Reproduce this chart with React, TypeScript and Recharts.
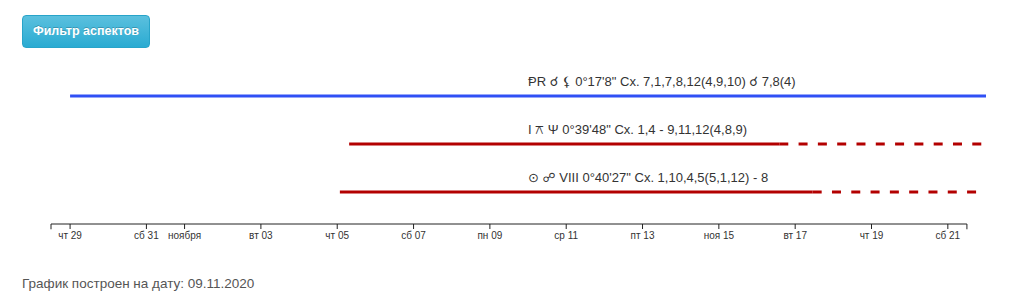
import { LineChart, Line, XAxis, YAxis, ReferenceLine, ReferenceDot } from 'recharts';

// all dates are read as UTC
const ms = (s: string) => Date.parse(s + ':00Z');

const DOMAIN_START = '2020-10-28T12:00';
const DOMAIN_END = '2020-11-22T00:00';
const AXIS_END = '2020-11-21T12:00';

const TICK_DATES = [
  '2020-10-29T00:00', '2020-10-31T00:00', '2020-11-01T00:00', '2020-11-03T00:00',
  '2020-11-05T00:00', '2020-11-07T00:00', '2020-11-09T00:00', '2020-11-11T00:00',
  '2020-11-13T00:00', '2020-11-15T00:00', '2020-11-17T00:00', '2020-11-19T00:00',
  '2020-11-21T00:00',
];
const TICK_LABELS = [
  'чт 29', 'сб 31', 'ноября', 'вт 03', 'чт 05', 'сб 07', 'пн 09', 'ср 11',
  'пт 13', 'ноя 15', 'вт 17', 'чт 19', 'сб 21',
];

const ASPECT_LABELS = [
  'ⱣR ☌ ⚸ 0°17\'8" Сх. 7,1,7,8,12(4,9,10) ☌ 7,8(4)',
  'I ⚻ Ψ 0°39\'48" Сх. 1,4 - 9,11,12(4,8,9)',
  '⊙ ☍ VIII 0°40\'27" Сх. 1,10,4,5(5,1,12) - 8',
];
const ASPECT_START = ['2020-10-29T00:00', '2020-11-05T07:30', '2020-11-05T01:40'];
const ASPECT_SOLID_END = ['2020-11-22T00:00', '2020-11-16T14:00', '2020-11-17T11:00'];
const ASPECT_END = ['2020-11-22T00:00', '2020-11-21T21:20', '2020-11-21T18:15'];
const ASPECT_COLORS = ['#3050f5', '#b30000', '#b30000'];
const ASPECT_LANE = [3, 2, 1];
const LABEL_DATE = '2020-11-10T00:00';

const Y_MIN = 1 / 3;
const Y_MAX = 3;
const TICK_MS = TICK_DATES.map(ms);

const FONT = 'Arial, "Liberation Sans", "DejaVu Sans", sans-serif';

const AspectLabel = ({ viewBox, text }: any) => {
  const x = viewBox.x + (viewBox.width || 0) / 2;
  const y = viewBox.y + (viewBox.height || 0) / 2;
  return (
    <text x={x} y={y - 10} fill="#333" fontSize={13} fontFamily={FONT} textAnchor="start">
      {text}
    </text>
  );
};

export default function App() {
  return (
    <div style={{ position: 'absolute', left: 0, top: 0, width: 1024, height: 303, fontFamily: FONT }}>
      <div
        style={{
          position: 'absolute',
          left: 22,
          top: 15,
          width: 128,
          height: 33,
          boxSizing: 'border-box',
          borderRadius: 4,
          border: '1px solid #28a4c9',
          background: 'linear-gradient(#5bc0de, #2aabd2)',
          color: '#fff',
          fontWeight: 'bold',
          fontSize: 12.5,
          lineHeight: '31px',
          textAlign: 'center',
          textShadow: '0 -1px 0 rgba(0,0,0,0.2)',
        }}
      >
        Фильтр аспектов
      </div>
      <div style={{ position: 'absolute', left: 0, top: 0 }}>
        <LineChart width={1024} height={260} margin={{ top: 96, right: 38, left: 51, bottom: 6 }}>
          <XAxis
            dataKey="t"
            type="number"
            domain={[ms(DOMAIN_START), ms(DOMAIN_END)]}
            ticks={TICK_MS}
            interval={0}
            tickFormatter={(v: number) => TICK_LABELS[TICK_MS.indexOf(v)]}
            axisLine={false}
            tickLine={{ stroke: '#222' }}
            tickSize={5}
            tickMargin={3}
            height={30}
            tick={{ fill: '#333', fontSize: 10, fontFamily: FONT }}
          />
          <YAxis hide type="number" dataKey="y" domain={[Y_MIN, Y_MAX]} />
          <ReferenceLine
            segment={[{ x: ms(DOMAIN_START), y: Y_MIN }, { x: ms(AXIS_END), y: Y_MIN }]}
            stroke="#222"
            ifOverflow="visible"
          />
          <ReferenceLine
            segment={[{ x: ms(DOMAIN_START), y: Y_MIN }, { x: ms(DOMAIN_START), y: Y_MIN - 0.11 }]}
            stroke="#222"
            ifOverflow="visible"
          />
          <ReferenceLine
            segment={[{ x: ms(AXIS_END), y: Y_MIN }, { x: ms(AXIS_END), y: Y_MIN - 0.11 }]}
            stroke="#222"
            ifOverflow="visible"
          />
          {ASPECT_LABELS.map((_, i) => (
            <Line
              key={`solid-${i}`}
              data={[
                { t: ms(ASPECT_START[i]), y: ASPECT_LANE[i] },
                { t: ms(ASPECT_SOLID_END[i]), y: ASPECT_LANE[i] },
              ]}
              dataKey="y"
              stroke={ASPECT_COLORS[i]}
              strokeWidth={3}
              dot={false}
              activeDot={false}
              isAnimationActive={false}
            />
          ))}
          {ASPECT_LABELS.map((_, i) =>
            ASPECT_END[i] === ASPECT_SOLID_END[i] ? null : (
              <Line
                key={`dash-${i}`}
                data={[
                  { t: ms(ASPECT_SOLID_END[i]), y: ASPECT_LANE[i] },
                  { t: ms(ASPECT_END[i]), y: ASPECT_LANE[i] },
                ]}
                dataKey="y"
                stroke={ASPECT_COLORS[i]}
                strokeWidth={3}
                strokeDasharray="9 10.3"
                dot={false}
                activeDot={false}
                isAnimationActive={false}
              />
            )
          )}
          {ASPECT_LABELS.map((label, i) => (
            <ReferenceDot
              key={`label-${i}`}
              x={ms(LABEL_DATE)}
              y={ASPECT_LANE[i]}
              r={0}
              fill="none"
              stroke="none"
              label={{ content: (p: any) => <AspectLabel {...p} text={label} /> }}
            />
          ))}
        </LineChart>
      </div>
      <div style={{ position: 'absolute', left: 22, top: 277, fontSize: 13.5, lineHeight: '14px', color: '#555' }}>
        График построен на дату: 09.11.2020
      </div>
    </div>
  );
}
